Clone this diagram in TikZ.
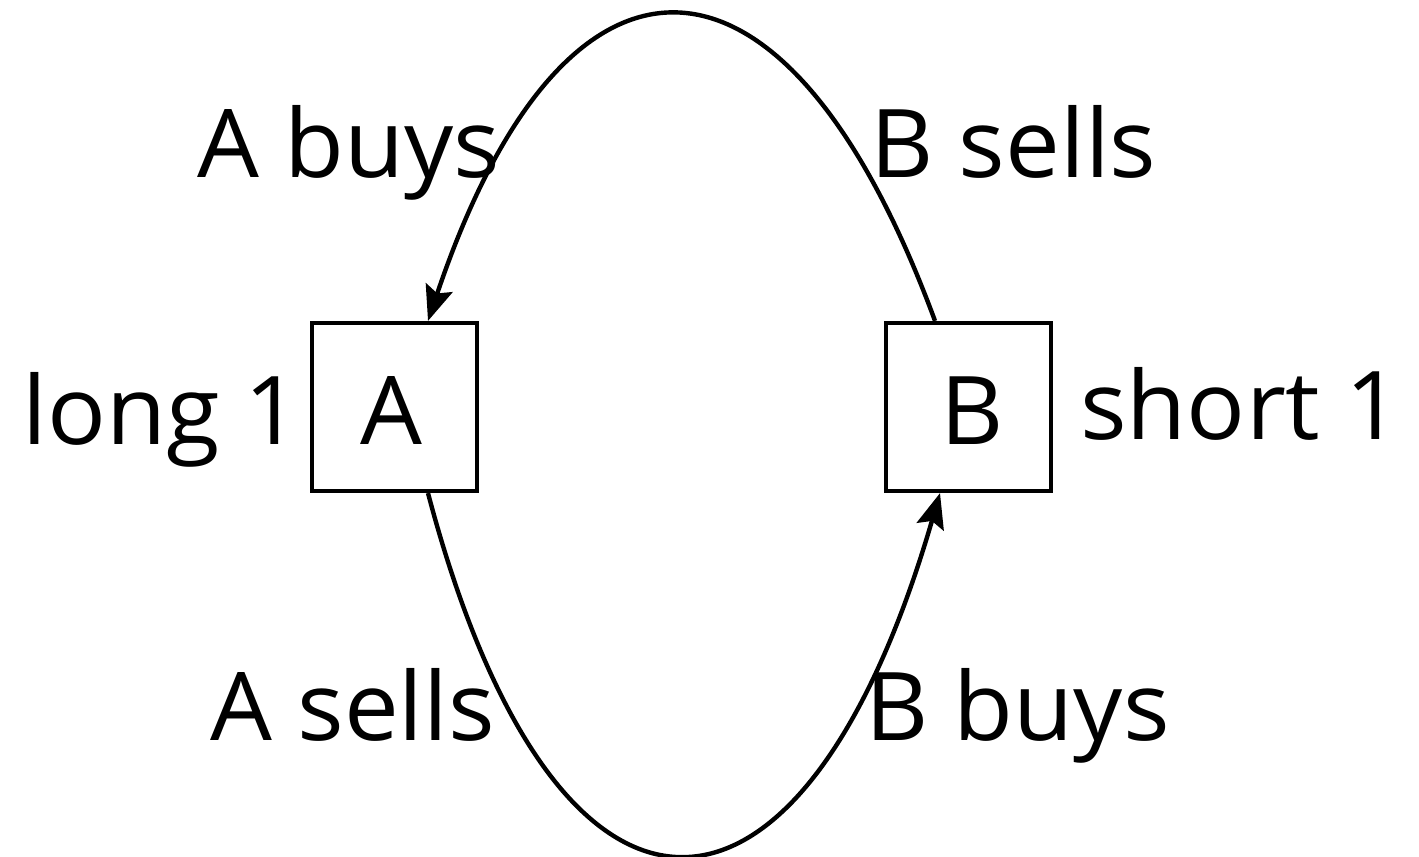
\documentclass[tikz,border=0pt]{standalone}
\usepackage{fontspec}
\setmainfont[FakeStretch=1.03]{Open Sans}
\usetikzlibrary{arrows.meta,calc}
\begin{document}
\begin{tikzpicture}[x=0.02cm,y=-0.02cm,
  box/.style={draw,line width=2.4pt,minimum width=3.3cm,minimum height=3.36cm,inner sep=0pt,font=\fontsize{54}{60}\selectfont},
  lbl/.style={anchor=base west,inner sep=0pt,font=\fontsize{54}{60}\selectfont},
  conn/.style={line width=2.5pt,-{Stealth[length=0.7cm,width=0.56cm,inset=0.12cm]}}]
\useasboundingbox (0,0) rectangle (1419,857);
\node[box] (A) at (394.5,407) {};
\node[box] (B) at (968.5,407) {};
\node[lbl] (tA) at (360,445) {A};
\node[lbl] (tB) at (940,445) {B};
\node[lbl] (long) at (22,445) {long 1};
\node[lbl] (short) at (1080,440) {short 1};
\node[lbl] (abuys) at (197,178) {A buys};
\node[lbl] (bsells) at (870,178) {B sells};
\node[lbl] (asells) at (210,740) {A sells};
\node[lbl] (bbuys) at (865,740) {B buys};
\draw[conn] ($(B.north)+(-33.5,0)$) .. controls (785,-86) and (565,-86) .. ($(A.north)+(33.5,0)$);
\draw[conn] ($(A.south)+(33.5,0)$) .. controls (555,974) and (800,974) .. ($(B.south)+(-28.5,0)$);
\end{tikzpicture}
\end{document}
